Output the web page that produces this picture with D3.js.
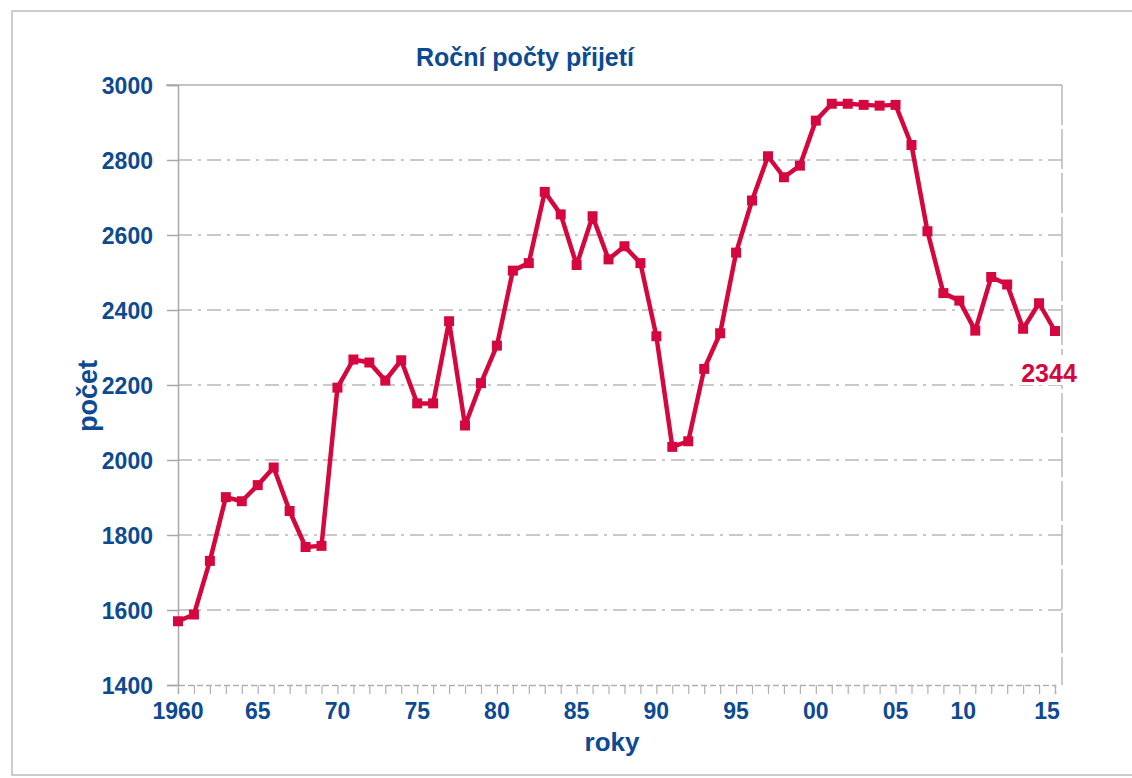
<!DOCTYPE html>
<html>
<head>
<meta charset="utf-8">
<script src="https://cdn.jsdelivr.net/npm/d3@7"></script>
<style>
    body { margin: 0; background: #fff; }
    svg { display: block; }
    .tick-label { font-family: "Liberation Sans", Arial, sans-serif; font-weight: bold; fill: #0d4a92; font-size: 23px; }
    .grid line { stroke: #b8b8b8; stroke-width: 1.6; stroke-dasharray: 14 6 3 6; }
</style>
</head>
<body>
<div id="chart"></div>
<script>
// yearly values
var years = d3.range(1960, 2016);
var counts = [
    1570, 1588, 1731, 1901, 1890, 1933, 1980, 1864, 1768, 1771,
    2193, 2268, 2260, 2212, 2266, 2151, 2151, 2370, 2092, 2205,
    2305, 2505, 2525, 2715, 2655, 2520, 2650, 2535, 2570, 2525,
    2330, 2035, 2050, 2243, 2338, 2553, 2692, 2810, 2754, 2785,
    2905, 2950, 2950, 2947, 2945, 2947, 2840, 2610, 2445, 2425,
    2345, 2488, 2468, 2350, 2418, 2344
];
var yTicks = [1400, 1600, 1800, 2000, 2200, 2400, 2600, 2800, 3000];
var xTickYears = [1960, 1965, 1970, 1975, 1980, 1985, 1990, 1995, 2000, 2005, 2010, 2015];
var xTickLabels = ['1960', '65', '70', '75', '80', '85', '90', '95', '00', '05', '10', '15'];

var width = 1132, height = 778;
var margin = { top: 85, right: 77, bottom: 93, left: 178 };
var innerW = 1055 - margin.left, innerH = height - margin.top - margin.bottom;

var svg = d3.select('#chart')
    .append('svg')
    .attr('width', width)
    .attr('height', height);

// scan frame
svg.append('rect')
    .attr('x', 12).attr('y', 11)
    .attr('width', 1124).attr('height', 764)
    .attr('fill', 'none')
    .attr('stroke', '#bdbdbd')
    .attr('stroke-width', 1.5);

var g = svg.append('g')
    .attr('transform', 'translate(' + margin.left + ',' + margin.top + ')');

var x = d3.scaleLinear().domain([1960, 2015]).range([0, innerW]);
var y = d3.scaleLinear().domain([1400, 3000]).range([innerH, 0]);

// grid
g.append('g')
    .attr('class', 'grid')
    .selectAll('line')
    .data(yTicks.filter(function(d) { return d > 1400 && d < 3000; }))
    .enter()
    .append('line')
    .attr('x1', 0)
    .attr('x2', 884)
    .attr('y1', function(d) { return y(d); })
    .attr('y2', function(d) { return y(d); });

// top and right border
g.append('line')
    .attr('x1', -12).attr('x2', 884)
    .attr('y1', y(3000)).attr('y2', y(3000))
    .attr('stroke', '#b0b0b0').attr('stroke-width', 1.5);
g.append('line')
    .attr('x1', 884).attr('x2', 884)
    .attr('y1', y(3000)).attr('y2', y(1400))
    .attr('stroke', '#b8b8b8').attr('stroke-width', 1.5)
    .attr('stroke-dasharray', '40 4');

// y axis
var yAxis = d3.axisLeft(y).tickValues(yTicks).tickSize(11).tickFormat(d3.format('d'));
var yG = g.append('g').call(yAxis);
yG.select('.domain').attr('stroke', '#a8a8a8').attr('stroke-width', 1.5);
yG.selectAll('.tick line').attr('stroke', '#a8a8a8').attr('stroke-width', 1.5);
yG.selectAll('.tick text')
    .attr('class', 'tick-label')
    .attr('x', -25)
    .attr('dy', '0.36em');

// x axis with a tick for every year
var xAxis = d3.axisBottom(x).tickValues(years).tickSize(9).tickFormat('');
var xG = g.append('g')
    .attr('transform', 'translate(0,' + innerH + ')')
    .call(xAxis);
xG.select('.domain').attr('stroke', '#b0b0b0').attr('stroke-width', 1.5).attr('stroke-dasharray', '6 3');
xG.selectAll('.tick line').attr('stroke', '#b0b0b0').attr('stroke-width', 1.2);

// the last two labels sit a little left of their ticks in the original
function labelShift(yr) {
    if (yr === 2010) return -12;
    if (yr === 2015) return -8;
    return 0;
}

xG.selectAll('.year-label')
    .data(xTickYears)
    .enter()
    .append('text')
    .attr('class', 'tick-label')
    .attr('text-anchor', 'middle')
    .attr('x', function(d) { return x(d) + labelShift(d); })
    .attr('y', 34)
    .text(function(d, i) { return xTickLabels[i]; });

// titles
svg.append('text')
    .attr('class', 'tick-label')
    .attr('x', 525).attr('y', 66)
    .attr('text-anchor', 'middle')
    .style('font-size', '25px')
    .text('Roční počty přijetí');

svg.append('text')
    .attr('class', 'tick-label')
    .attr('x', 612).attr('y', 751)
    .attr('text-anchor', 'middle')
    .style('font-size', '26px')
    .text('roky');

svg.append('text')
    .attr('class', 'tick-label')
    .attr('transform', 'translate(97,396) rotate(-90)')
    .attr('text-anchor', 'middle')
    .style('font-size', '27px')
    .text('počet');

// line and markers
var line = d3.line()
    .x(function(d, i) { return x(years[i]); })
    .y(function(d) { return y(d); });

g.append('path')
    .datum(counts)
    .attr('fill', 'none')
    .attr('stroke', '#d5073f')
    .attr('stroke-width', 4.5)
    .attr('stroke-linejoin', 'round')
    .attr('d', line);

g.selectAll('.marker')
    .data(counts)
    .enter()
    .append('rect')
    .attr('class', 'marker')
    .attr('x', function(d, i) { return x(years[i]) - 5; })
    .attr('y', function(d) { return y(d) - 5; })
    .attr('width', 10)
    .attr('height', 10)
    .attr('fill', '#d5073f');

// last value label
var last = counts[counts.length - 1];
g.append('rect')
    .attr('x', x(2015) - 38).attr('y', y(last) + 24)
    .attr('width', 66).attr('height', 30)
    .attr('fill', '#fff');
g.append('text')
    .attr('x', x(2015) - 6)
    .attr('y', y(last) + 51)
    .attr('text-anchor', 'middle')
    .style('font-family', '"Liberation Sans", Arial, sans-serif')
    .style('font-weight', 'bold')
    .style('font-size', '25px')
    .attr('fill', '#d5073f')
    .text(last);
</script>
</body>
</html>
